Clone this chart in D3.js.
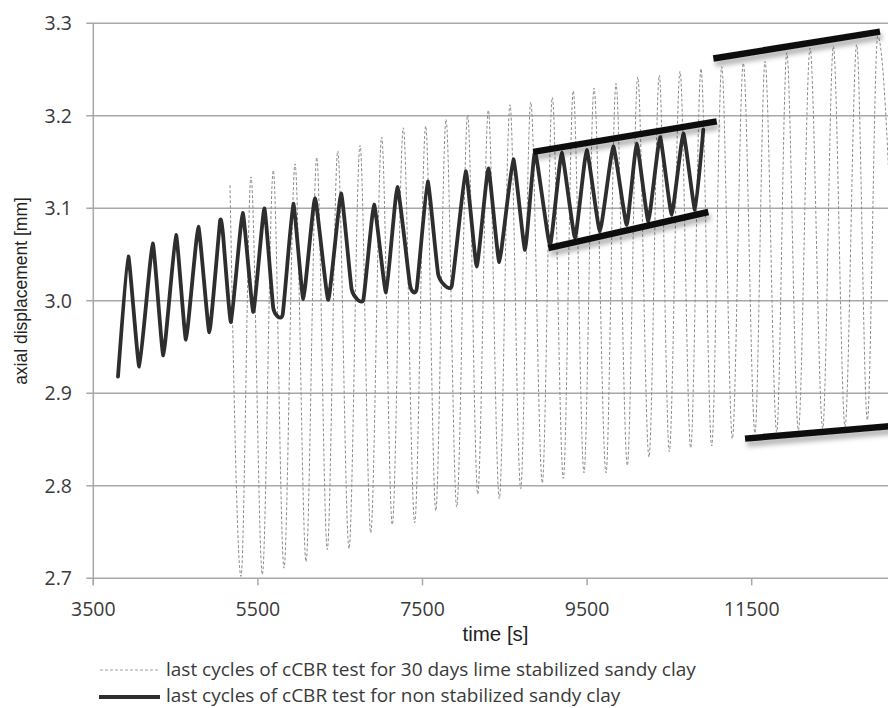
<!DOCTYPE html>
<html>
<head>
<meta charset="utf-8">
<script src="https://cdn.jsdelivr.net/npm/d3@7"></script>
<style>
  body { margin: 0; background: #fff; }
  svg { display: block; }
</style>
</head>
<body>
<svg></svg>
<script>
// Data: time [s] and axial displacement [mm]
const nonStabTime = [3800, 3925, 4059, 4222, 4351, 4505, 4626, 4776, 4910, 5040, 5076, 5173, 5315, 5444, 5578, 5687, 5801,
    5930, 6052, 6194, 6355, 6510, 6640, 6781, 6911, 7057, 7194, 7348, 7430, 7563, 7692, 7855, 8025, 8159, 8300, 8433,
    8603, 8746, 8867, 9049, 9191, 9353, 9495, 9656, 9818, 9981, 10103, 10244, 10386, 10528, 10669, 10811, 10912];
const nonStabDisp = [2.918, 3.048, 2.929, 3.062, 2.941, 3.071, 2.958, 3.080, 2.966, 3.086, 3.072, 2.977, 3.095, 2.988, 3.100, 2.992, 2.985,
    3.105, 3.002, 3.111, 3.001, 3.116, 3.012, 3.001, 3.104, 3.009, 3.123, 3.017, 3.013, 3.129, 3.028, 3.016, 3.140, 3.037, 3.143, 3.042,
    3.153, 3.055, 3.161, 3.060, 3.160, 3.068, 3.163, 3.075, 3.167, 3.082, 3.170, 3.086, 3.177, 3.093, 3.181, 3.098, 3.185];

const limeTime = [5161, 5295, 5416, 5554, 5687, 5817, 5951, 6085, 6215, 6343, 6470, 6607, 6741, 6871, 7004, 7133, 7267, 7405,
    7539, 7661, 7786, 7916, 8049, 8171, 8300, 8433, 8563, 8693, 8815, 8956, 9077, 9211, 9332, 9462, 9584, 9730, 9851, 9989,
    10115, 10252, 10377, 10499, 10629, 10759, 10884, 11014, 11136, 11265, 11398, 11540, 11662, 11804, 11926, 12067, 12209,
    12363, 12492, 12634, 12776, 12905, 13031, 13278];
const limeDisp = [3.125, 2.702, 3.134, 2.704, 3.141, 2.711, 3.148, 2.718, 3.155, 2.731, 3.162, 2.732, 3.168, 2.749, 3.177, 2.758, 3.187, 2.760,
    3.189, 2.773, 3.196, 2.777, 3.201, 2.791, 3.206, 2.786, 3.212, 2.797, 3.215, 2.803, 3.220, 2.808, 3.227, 2.814, 3.230, 2.814, 3.235, 2.822,
    3.242, 2.831, 3.244, 2.837, 3.248, 2.841, 3.251, 2.843, 3.253, 2.851, 3.257, 2.857, 3.259, 2.858, 3.268, 2.860, 3.273,
    2.862, 3.275, 2.864, 3.277, 2.871, 3.286, 2.875];

// Hand-drawn envelope lines (start/end points)
const envelopes = [
    [[8846, 3.161], [11075, 3.194]],
    [[9029, 3.057], [10973, 3.096]],
    [[11034, 3.262], [13059, 3.291]],
    [[11419, 2.851], [13250, 2.865]]
];

const yTicks = [2.7, 2.8, 2.9, 3.0, 3.1, 3.2, 3.3];
const xTicks = [3500, 5500, 7500, 9500, 11500];

const legendLabels = [
    "last cycles of cCBR test for 30 days lime stabilized sandy clay",
    "last cycles of cCBR test for non stabilized sandy clay"
];

// Setup
const width = 888, height = 708;
const svg = d3.select("svg").attr("width", width).attr("height", height);

const x = d3.scaleLinear().domain([3500, 13500]).range([93.3, 916.3]);
const y = d3.scaleLinear().domain([2.7, 3.3]).range([578.3, 23.3]);

const gridColor = "#a8a8a8";
const textColor = "#3a3a3a";

const defs = svg.append("defs");
defs.append("clipPath").attr("id", "plot")
    .append("rect").attr("x", x(3500)).attr("y", y(3.3) - 10)
    .attr("width", width).attr("height", y(2.7) - y(3.3) + 10);
const shadow = defs.append("filter").attr("id", "shadow")
    .attr("x", "-10%").attr("y", "-100%").attr("width", "120%").attr("height", "400%");
shadow.append("feDropShadow")
    .attr("dx", 2).attr("dy", 5).attr("stdDeviation", 2.5)
    .attr("flood-color", "#000").attr("flood-opacity", 0.3);

// Horizontal gridlines + y ticks
svg.append("g")
    .selectAll("line")
    .data(yTicks)
    .join("line")
    .attr("x1", x(3500) - 7)
    .attr("x2", width)
    .attr("y1", d => y(d))
    .attr("y2", d => y(d))
    .attr("stroke", gridColor)
    .attr("stroke-width", 1.5);

svg.append("g")
    .selectAll("text")
    .data(yTicks)
    .join("text")
    .attr("x", 72)
    .attr("y", d => y(d))
    .attr("dy", "0.36em")
    .attr("text-anchor", "end")
    .style("font-family", "'Open Sans', sans-serif")
    .style("font-size", "19.5px")
    .attr("fill", textColor)
    .text(d => d.toFixed(1));

// Y axis line
svg.append("line")
    .attr("x1", x(3500)).attr("x2", x(3500))
    .attr("y1", y(3.3)).attr("y2", y(2.7) + 7)
    .attr("stroke", gridColor)
    .attr("stroke-width", 1.5);

// X ticks
svg.append("g")
    .selectAll("line")
    .data(xTicks)
    .join("line")
    .attr("x1", d => x(d)).attr("x2", d => x(d))
    .attr("y1", y(2.7)).attr("y2", y(2.7) + 7)
    .attr("stroke", gridColor)
    .attr("stroke-width", 1.5);

svg.append("g")
    .selectAll("text")
    .data(xTicks)
    .join("text")
    .attr("x", d => x(d))
    .attr("y", 616)
    .attr("text-anchor", "middle")
    .style("font-family", "'Open Sans', sans-serif")
    .style("font-size", "19.5px")
    .attr("fill", textColor)
    .text(d => d);

// Axis titles
svg.append("text")
    .attr("transform", "rotate(-90)")
    .attr("x", -291)
    .attr("y", 27)
    .attr("text-anchor", "middle")
    .style("font-family", "'Liberation Sans', Arial, sans-serif")
    .style("font-size", "17.5px")
    .attr("fill", "#222")
    .text("axial displacement [mm]");

svg.append("text")
    .attr("x", 495.5)
    .attr("y", 641)
    .attr("text-anchor", "middle")
    .style("font-family", "'Liberation Sans', Arial, sans-serif")
    .style("font-size", "20.5px")
    .attr("fill", "#222")
    .text("time [s]");

// Lines
const plot = svg.append("g").attr("clip-path", "url(#plot)");

plot.append("path")
    .datum(d3.zip(limeTime, limeDisp))
    .attr("d", d3.line()
        .x(d => x(d[0]))
        .y(d => y(d[1]))
        .curve(d3.curveMonotoneX))
    .attr("fill", "none")
    .attr("stroke", "#8c8c8c")
    .attr("stroke-width", 1)
    .attr("stroke-dasharray", "3,2");

plot.append("path")
    .datum(d3.zip(nonStabTime, nonStabDisp))
    .attr("d", d3.line()
        .x(d => x(d[0]))
        .y(d => y(d[1]))
        .curve(d3.curveCardinal.tension(0.6)))
    .attr("fill", "none")
    .attr("stroke", "#2e2e2e")
    .attr("stroke-width", 3.8)
    .attr("stroke-linejoin", "round")
    .attr("stroke-linecap", "round");

svg.append("g")
    .selectAll("path")
    .data(envelopes)
    .join("path")
    .attr("d", d3.line().x(d => x(d[0])).y(d => y(d[1])))
    .attr("fill", "none")
    .attr("stroke", "#111")
    .attr("stroke-width", 6.5)
    .attr("filter", "url(#shadow)");

// Legend
const legend = svg.append("g");
legend.append("line")
    .attr("x1", 100).attr("x2", 159)
    .attr("y1", 670).attr("y2", 670)
    .attr("stroke", "#a0a0a0")
    .attr("stroke-width", 1.2)
    .attr("stroke-dasharray", "3,2");
legend.append("line")
    .attr("x1", 99).attr("x2", 160)
    .attr("y1", 697).attr("y2", 697)
    .attr("stroke", "#2e2e2e")
    .attr("stroke-width", 3.8);

legend.selectAll("text")
    .data(legendLabels)
    .join("text")
    .attr("x", 166)
    .attr("y", (d, i) => 676 + i * 26)
    .style("font-family", "'Open Sans', sans-serif")
    .style("font-size", "19px")
    .attr("fill", textColor)
    .text(d => d);
</script>
</body>
</html>
